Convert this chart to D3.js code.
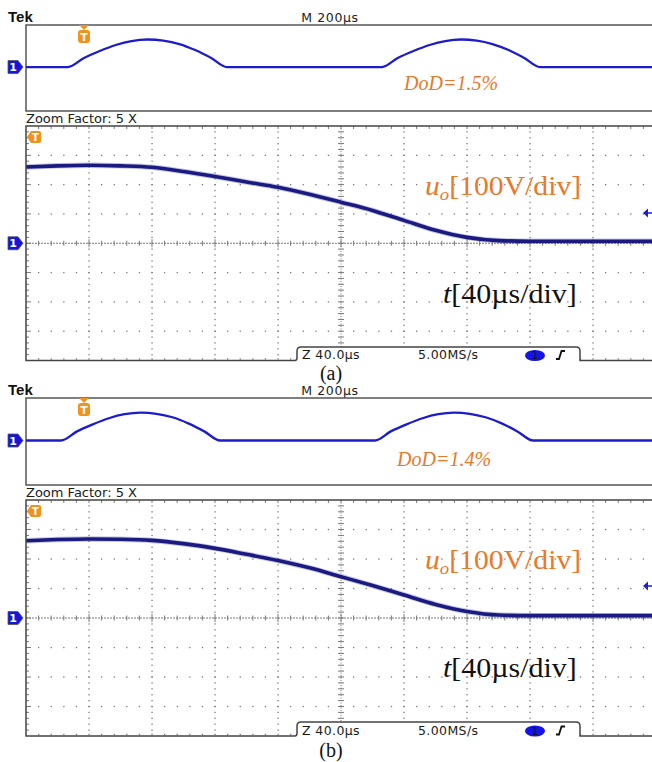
<!DOCTYPE html>
<html>
<head>
<meta charset="utf-8">
<script src="https://cdn.jsdelivr.net/npm/d3@7"></script>
<style>
  body { margin: 0; background: #fff; }
  svg { display: block; }
</style>
</head>
<body>
<div id="chart"></div>
<script>
var W = 652, H = 762;

// overview window, M 200µs/div: time (µs) and output voltage (V)
var overviewTimeA = [0, 133, 184, 234, 285, 335, 386, 436, 487, 537, 588, 638,
  1130, 1180, 1230, 1281, 1331, 1381, 1431, 1481, 1532, 1582, 1632, 2000];
var overviewVoltA = [9, 9, 93, 158, 214, 251, 265, 255, 223, 167, 93, 9,
  9, 93, 158, 214, 251, 265, 255, 223, 167, 93, 9, 9];
var overviewTimeB = [0, 111, 162, 212, 263, 313, 364, 414, 465, 515, 566, 616,
  1108, 1158, 1208, 1259, 1309, 1359, 1409, 1459, 1510, 1560, 1610, 2000];
var overviewVoltB = [9, 9, 93, 158, 214, 251, 265, 255, 223, 167, 93, 9,
  9, 93, 158, 214, 251, 265, 255, 223, 167, 93, 9, 9];

// zoomed window, 40µs/div and 100V/div
var zoomTime = [0, 20, 40, 60, 80, 100, 120, 140, 160, 180, 200, 220, 240, 260, 280, 300, 320, 340, 360, 380, 400];
var zoomVoltA = [260, 264, 266, 264, 259, 245, 228, 209, 191, 167, 140, 112, 78, 44, 20, 9, 7, 7, 7, 7, 7];
var zoomVoltB = [262, 266, 268, 267, 263, 252, 236, 216, 195, 170, 140, 110, 78, 46, 22, 10, 8, 8, 8, 8, 8];

var dodLabels = ['DoD=1.5%', 'DoD=1.4%'];
var captions = ['(a)', '(b)'];

var panels = [
  { tekY: 22, ovTop: 25, ovBot: 111, zoomTop: 126, zoomBot: 360.5, tabTop: 347, capY: 380,
    dodX: 404, dodY: 90, uoY: 195, tY: 303, arrowY: 213,
    ovT: overviewTimeA, ovV: overviewVoltA, zV: zoomVoltA, dod: dodLabels[0], cap: captions[0] },
  { tekY: 395, ovTop: 398, ovBot: 485, zoomTop: 500, zoomBot: 736, tabTop: 722, capY: 757,
    dodX: 397, dodY: 466, uoY: 569, tY: 677, arrowY: 586,
    ovT: overviewTimeB, ovV: overviewVoltB, zV: zoomVoltB, dod: dodLabels[1], cap: captions[1] }
];

var gridCol = '#7a7a7a', frameCol = '#444', orange = '#e8792a';

var svg = d3.select('#chart').append('svg')
  .attr('width', W).attr('height', H)
  .style('font-family', '"DejaVu Sans", sans-serif');

function chMarker(g, x, y) {
  g.append('path')
    .attr('d', 'M' + (x - 15) + ',' + (y - 6.5) + 'H' + (x - 5) + 'L' + x + ',' + y +
      'L' + (x - 5) + ',' + (y + 6.5) + 'H' + (x - 15) + 'Z')
    .attr('fill', '#1414e0').attr('stroke', '#555').attr('stroke-width', 0.8);
  g.append('text').attr('x', x - 10).attr('y', y + 4)
    .attr('text-anchor', 'middle').attr('font-size', 11).attr('font-weight', 'bold')
    .attr('fill', '#fff').text('1');
}

function drawScope(p) {
  var g = svg.append('g');
  var ox = d3.scaleLinear().domain([0, 2000]).range([26, 656]);
  var oy = d3.scaleLinear().domain([-400, 400]).range([p.ovBot, p.ovTop]);
  var zx = d3.scaleLinear().domain([0, 400]).range([26, 656]);
  var zy = d3.scaleLinear().domain([-400, 400]).range([p.zoomBot, p.zoomTop]);

  // header
  g.append('text').attr('x', 8).attr('y', p.tekY)
    .attr('font-family', '"Liberation Sans", Arial, sans-serif')
    .attr('font-weight', 'bold').attr('font-size', 15).attr('fill', '#111').text('Tek');
  g.append('text').attr('x', 330).attr('y', p.tekY)
    .attr('text-anchor', 'middle').attr('font-size', 12.5).attr('letter-spacing', 0.6)
    .attr('fill', '#222').text('M 200µs');

  // overview frame
  g.append('path')
    .attr('d', 'M652,' + p.ovTop + 'H26V' + p.ovBot + 'H652')
    .attr('fill', 'none').attr('stroke', '#555').attr('stroke-width', 1.5);

  var ovLine = d3.line()
    .x(function (d) { return ox(d[0]); })
    .y(function (d) { return oy(d[1]); })
    .curve(d3.curveMonotoneX);
  g.append('path')
    .datum(d3.zip(p.ovT, p.ovV))
    .attr('d', ovLine)
    .attr('fill', 'none').attr('stroke', '#1c1ccc').attr('stroke-width', 2.3);

  chMarker(g, 23, oy(9));

  // trigger position
  var tx = 84;
  g.append('path')
    .attr('d', 'M' + (tx - 5) + ',' + p.ovTop + 'H' + (tx + 5) + 'L' + tx + ',' + (p.ovTop + 5) + 'Z')
    .attr('fill', '#f0931c');
  g.append('rect').attr('x', tx - 6).attr('y', p.ovTop + 5).attr('width', 12).attr('height', 13)
    .attr('rx', 3).attr('fill', '#f0931c');
  g.append('text').attr('x', tx).attr('y', p.ovTop + 16).attr('text-anchor', 'middle')
    .attr('font-size', 11).attr('font-weight', 'bold').attr('fill', '#fff').text('T');

  g.append('text').attr('x', p.dodX).attr('y', p.dodY)
    .attr('font-family', '"Liberation Serif", "Times New Roman", serif')
    .attr('font-style', 'italic').attr('font-size', 20).attr('fill', orange).text(p.dod);

  g.append('text').attr('x', 26).attr('y', p.zoomTop - 3)
    .attr('font-size', 13).attr('fill', '#1a1a1a').text('Zoom Factor: 5 X');

  // zoomed graticule
  var grid = g.append('g').attr('fill', gridCol);
  var minorT = d3.range(8, 400, 8);
  var minorV = d3.range(-380, 400, 20);
  [40, 80, 120, 160, 240, 280, 320, 360].forEach(function (t) {
    minorV.forEach(function (v) {
      grid.append('rect').attr('x', zx(t) - 0.6).attr('y', zy(v) - 0.6)
        .attr('width', 1.3).attr('height', 1.3);
    });
  });
  [-300, -200, -100, 100, 200, 300].forEach(function (v) {
    minorT.forEach(function (t) {
      grid.append('rect').attr('x', zx(t) - 0.6).attr('y', zy(v) - 0.6)
        .attr('width', 1.3).attr('height', 1.3);
    });
  });
  minorT.forEach(function (t) {
    grid.append('rect').attr('x', zx(t) - 0.6).attr('y', p.zoomBot - 2.2)
      .attr('width', 1.3).attr('height', 1.3);
  });

  var ticks = g.append('g').attr('stroke', gridCol).attr('stroke-width', 1);
  // centre cross with minor ticks
  ticks.append('line').attr('x1', 26).attr('x2', 652).attr('y1', zy(0)).attr('y2', zy(0))
    .attr('stroke-dasharray', '2,1');
  ticks.append('line').attr('x1', zx(200)).attr('x2', zx(200)).attr('y1', p.zoomTop).attr('y2', p.zoomBot)
    .attr('stroke-dasharray', '1,1.5');
  minorT.forEach(function (t) {
    var h = t % 40 === 0 ? 4 : 2.5;
    ticks.append('line').attr('x1', zx(t)).attr('x2', zx(t))
      .attr('y1', zy(0) - h).attr('y2', zy(0) + h);
    ticks.append('line').attr('x1', zx(t)).attr('x2', zx(t))
      .attr('y1', p.zoomTop).attr('y2', p.zoomTop + 3);
  });
  minorV.forEach(function (v) {
    ticks.append('line').attr('x1', zx(200) - 3).attr('x2', zx(200) + 3)
      .attr('y1', zy(v)).attr('y2', zy(v));
    ticks.append('line').attr('x1', 26).attr('x2', v % 100 === 0 ? 31 : 29)
      .attr('y1', zy(v)).attr('y2', zy(v));
  });

  // zoomed trace
  var zLine = d3.line()
    .x(function (d) { return zx(d[0]); })
    .y(function (d) { return zy(d[1]); })
    .curve(d3.curveMonotoneX);
  var zData = d3.zip(zoomTime, p.zV);
  g.append('path').datum(zData).attr('d', zLine)
    .attr('fill', 'none').attr('stroke', '#3a3aa0').attr('stroke-opacity', 0.3).attr('stroke-width', 5.5);
  g.append('path').datum(zData).attr('d', zLine)
    .attr('fill', 'none').attr('stroke', '#1a1a80').attr('stroke-width', 3.6);

  // zoom frame and status tab
  var tl = 297, tr = 580, tb = p.tabTop, zb = p.zoomBot;
  g.append('rect')
    .attr('x', tl + 0.5).attr('y', tb + 0.5).attr('width', tr - tl - 1).attr('height', zb - tb)
    .attr('fill', '#fff');
  g.append('path')
    .attr('d', 'M652,' + p.zoomTop + 'H26V' + zb + 'H' + (tl - 2) +
      'Q' + tl + ',' + zb + ' ' + tl + ',' + (zb - 3) + 'V' + (tb + 4) +
      'Q' + tl + ',' + tb + ' ' + (tl + 4) + ',' + tb + 'H' + (tr - 4) +
      'Q' + tr + ',' + tb + ' ' + tr + ',' + (tb + 4) + 'V' + zb + 'H652')
    .attr('fill', 'none').attr('stroke', frameCol).attr('stroke-width', 1.5);

  var st = g.append('g').attr('font-size', 12.5).attr('fill', '#1a1a1a').attr('letter-spacing', 0.4);
  st.append('text').attr('x', 302).attr('y', zb - 1.5).text('Z 40.0µs');
  st.append('text').attr('x', 418).attr('y', zb - 1.5).text('5.00MS/s');
  g.append('ellipse').attr('cx', 535).attr('cy', zb - 5).attr('rx', 10).attr('ry', 5.5).attr('fill', '#1414e6');
  g.append('text').attr('x', 535).attr('y', zb - 1.2).attr('text-anchor', 'middle')
    .attr('font-size', 10).attr('fill', '#111').text('1');
  g.append('path')
    .attr('d', 'M556,' + (zb - 1.5) + 'H559L561.5,' + (zb - 9.5) + 'H565')
    .attr('fill', 'none').attr('stroke', '#111').attr('stroke-width', 1.8);

  chMarker(g, 23, zy(0));

  // trigger marker inside zoom window
  var ty = p.zoomTop + 11;
  g.append('path')
    .attr('d', 'M27,' + ty + 'L31,' + (ty - 6) + 'H39Q41,' + (ty - 6) + ' 41,' + (ty - 4) +
      'V' + (ty + 4) + 'Q41,' + (ty + 6) + ' 39,' + (ty + 6) + 'H31Z')
    .attr('fill', '#f0931c');
  g.append('text').attr('x', 35.5).attr('y', ty + 4).attr('text-anchor', 'middle')
    .attr('font-size', 10).attr('font-weight', 'bold').attr('fill', '#fff').text('T');

  // reference arrow on the right edge
  g.append('path')
    .attr('d', 'M643,' + p.arrowY + 'L648,' + (p.arrowY - 4.5) + 'V' + (p.arrowY + 4.5) + 'Z')
    .attr('fill', '#1e1ed2');
  g.append('line').attr('x1', 647).attr('x2', 652).attr('y1', p.arrowY).attr('y2', p.arrowY)
    .attr('stroke', '#1e1ed2').attr('stroke-width', 1.5);

  // annotations
  var serif = '"Liberation Serif", "Times New Roman", serif';
  var uo = g.append('text')
    .attr('transform', 'translate(425,' + p.uoY + ') scale(1.1,1)')
    .attr('font-family', serif).attr('font-size', 27).attr('fill', orange);
  uo.append('tspan').attr('font-style', 'italic').text('u');
  uo.append('tspan').attr('font-style', 'italic').attr('font-size', 17).attr('dy', 5).text('o');
  uo.append('tspan').attr('dy', -5).text('[100V/div]');

  var tt = g.append('text')
    .attr('transform', 'translate(443,' + p.tY + ') scale(1.11,1)')
    .attr('font-family', serif).attr('font-size', 27).attr('fill', '#111');
  tt.append('tspan').attr('font-style', 'italic').text('t');
  tt.append('tspan').text('[40µs/div]');

  g.append('text').attr('x', 331).attr('y', p.capY).attr('text-anchor', 'middle')
    .attr('font-family', serif).attr('font-size', 20).attr('fill', '#111').text(p.cap);
}

panels.forEach(drawScope);
</script>
</body>
</html>
